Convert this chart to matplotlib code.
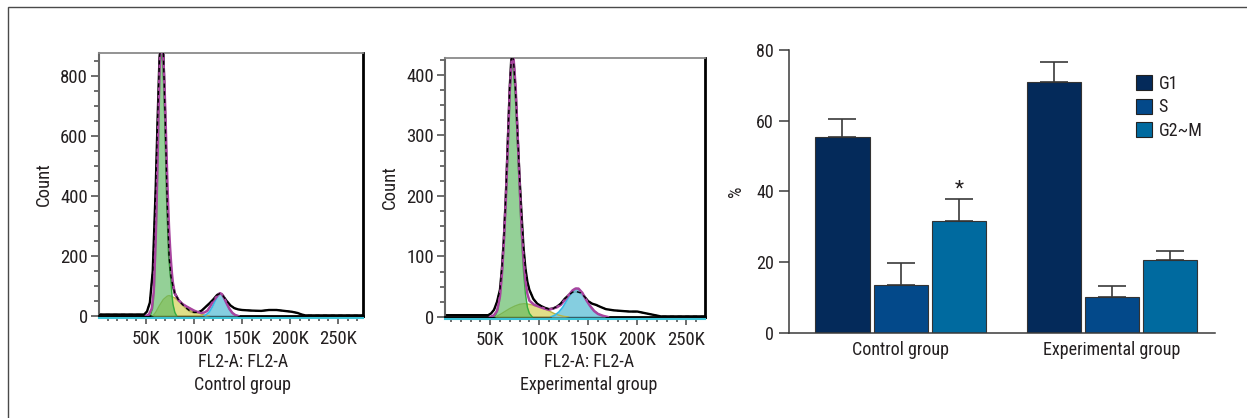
import matplotlib
matplotlib.use("Agg")
import matplotlib.pyplot as plt
import matplotlib.transforms as mtransforms
from matplotlib.patches import Patch, Rectangle
from matplotlib.ticker import FixedLocator, MultipleLocator

plt.rcParams['font.family'] = ['Liberation Sans Narrow', 'Roboto Condensed', 'Open Sans Condensed',
                               'DejaVu Sans']
plt.rcParams['font.stretch'] = 'condensed'
plt.rcParams['font.size'] = 12
plt.rcParams['text.color'] = '#231f20'
plt.rcParams['axes.labelcolor'] = '#231f20'
plt.rcParams['xtick.color'] = '#555555'
plt.rcParams['ytick.color'] = '#555555'
plt.rcParams['xtick.labelcolor'] = '#231f20'
plt.rcParams['ytick.labelcolor'] = '#231f20'

# ---- flow cytometry histograms (x in K) ----
ctrl_data_x = [0, 20, 40, 48, 51, 54, 57, 60, 62, 64, 66, 68, 70, 72, 74, 76, 78, 80, 84, 88,
               92, 96, 100, 104, 108, 112, 116, 120, 124, 127, 130, 134, 138, 142, 146, 150,
               160, 170, 178, 186, 194, 202, 208, 212, 216, 230, 250, 276]
ctrl_data_y = [5, 5, 5, 5, 15, 45, 150, 420, 650, 860, 920, 880, 650, 380, 200, 130, 100, 75, 52, 38,
               26, 16, 12, 12, 18, 30, 42, 55, 70, 75, 68, 50, 35, 26, 22, 20,
               18, 17, 20, 20, 17, 14, 10, 5, 2, 2, 2, 2]
ctrl_fit_x = [50, 53, 56, 58, 60, 61, 62, 63, 64, 65, 66, 67, 68, 69, 70, 71, 72, 73, 74, 75, 76,
              77, 78, 80, 84, 88, 92, 96, 100, 104, 108, 111, 114, 117, 120, 123, 125, 127, 129,
              131, 134, 137, 140, 143, 146]
ctrl_fit_y = [0, 5, 25, 80, 250, 370, 520, 670, 810, 900, 940, 920, 860, 790, 690, 580, 470, 370,
              290, 230, 180, 140, 110, 75, 52, 40, 32, 25, 18, 13, 10, 12, 18, 33, 50, 62, 70, 76,
              73, 62, 42, 23, 10, 3, 0]
ctrl_g1_x = [55, 57, 59, 61, 62, 63, 64, 65, 66, 67, 68, 69, 70, 71, 72, 73, 74, 75, 76, 77, 78, 80, 82]
ctrl_g1_y = [5, 25, 110, 330, 480, 620, 760, 840, 870, 860, 800, 720, 620, 510, 400, 300, 220, 160,
             110, 70, 40, 12, 0]
ctrl_s_x = [57, 60, 64, 68, 72, 74, 76, 80, 84, 88, 92, 96, 100, 104, 108, 112, 116]
ctrl_s_y = [0, 12, 35, 55, 66, 68, 66, 60, 50, 40, 32, 25, 18, 12, 6, 2, 0]
ctrl_g2_x = [110, 113, 116, 119, 122, 125, 127, 129, 131, 134, 137, 140, 143, 146]
ctrl_g2_y = [0, 5, 14, 30, 50, 68, 75, 72, 60, 40, 22, 10, 3, 0]

exp_data_x = [0, 30, 48, 51, 54, 57, 60, 62, 64, 66, 68, 70, 72, 74, 76, 78, 80, 82, 84, 86, 88,
              90, 94, 98, 102, 106, 110, 114, 118, 122, 126, 130, 134, 138, 142, 146, 150, 154,
              158, 162, 168, 176, 184, 192, 200, 206, 212, 218, 224, 230, 269]
exp_data_y = [3, 3, 3, 6, 12, 25, 45, 80, 130, 200, 290, 380, 440, 420, 370, 300, 230, 170, 115,
              80, 58, 45, 30, 22, 18, 15, 13, 14, 17, 22, 30, 36, 41, 42, 40, 34, 26, 22, 20, 17,
              13, 11, 10, 9, 9, 7, 5, 3, 1, 1, 1]
exp_fit_x = [50, 54, 57, 60, 62, 64, 66, 68, 70, 72, 73, 74, 76, 78, 80, 82, 84, 86, 88, 90, 95,
             100, 105, 110, 114, 118, 122, 126, 130, 134, 137, 140, 144, 148, 152, 156, 160, 165, 170]
exp_fit_y = [0, 3, 10, 34, 70, 124, 194, 282, 374, 426, 432, 425, 380, 302, 222, 152, 97, 60, 38,
             27, 20, 17, 14, 12, 14, 16, 20, 28, 36, 44, 47, 47, 40, 28, 18, 10, 5, 2, 0]
exp_g1_x = [54, 56, 58, 60, 62, 64, 66, 68, 70, 72, 73, 74, 76, 78, 80, 82, 84, 86, 88, 90, 93]
exp_g1_y = [0, 4, 12, 30, 65, 115, 185, 270, 360, 410, 415, 405, 360, 280, 200, 130, 75, 38, 16, 6, 0]
exp_s_x = [55, 60, 65, 70, 75, 80, 85, 90, 95, 100, 105, 110, 115, 120, 125, 130]
exp_s_y = [0, 4, 9, 14, 18, 21, 22, 21, 19, 17, 14, 10, 6, 3, 1, 0]
exp_g2_x = [112, 116, 120, 124, 128, 132, 135, 138, 141, 144, 148, 152, 156, 160, 164, 168]
exp_g2_y = [0, 3, 8, 16, 27, 38, 45, 47, 45, 39, 28, 18, 10, 5, 2, 0]

# ---- bar chart ----
groups = ['Control group', 'Experimental group']
phases = ['G1', 'S', 'G2~M']
phase_means = {'G1': [55.5, 70.9], 'S': [13.5, 10.0], 'G2~M': [31.6, 20.5]}
phase_errs = {'G1': [5.0, 5.6], 'S': [6.3, 3.1], 'G2~M': [6.1, 2.7]}
phase_colors = {'G1': '#042a5a', 'S': '#03498a', 'G2~M': '#006a9f'}

W, H = 1247, 418
fig = plt.figure(figsize=(W / 100, H / 100), dpi=100)

# outer frame
fig.patches.append(Rectangle((8 / W, -0.1), 1.2, 1 - 7 / H + 0.1, transform=fig.transFigure,
                             fill=False, edgecolor='#4a4a4a', linewidth=1))


def px_axes(left, top, right, bottom):
    return fig.add_axes([left / W, 1 - bottom / H, (right - left) / W, (bottom - top) / H])


def draw_hist(ax, data, fit, g1, s, g2, xlim, ylim, ymajor, yminor, title, cx):
    ax.plot(*data, color='black', lw=1.7, zorder=2)
    ax.fill_between(*s, color='#d9d86a', alpha=0.8, lw=0, zorder=3)
    ax.plot(*s, color='#b9b544', lw=1, zorder=3.5)
    ax.fill_between(*g2, color='#78c9dd', alpha=0.9, lw=0, zorder=3)
    ax.plot(*g2, color='#3ab8e6', lw=1.3, zorder=3.5)
    ax.fill_between(*g1, color='#5bb85f', alpha=0.65, lw=0, zorder=4)
    ax.plot(*g1, color='#35ad3e', lw=1, zorder=4.5)
    ax.plot(*fit, color='#a8449f', lw=1.8, zorder=5)
    ax.plot(*data, color='black', lw=1.0, dashes=(3, 2.5), zorder=6)

    ax.set_xlim(*xlim)
    ax.set_ylim(*ylim)
    ax.xaxis.set_major_locator(FixedLocator([50, 100, 150, 200, 250]))
    ax.set_xticklabels(['50K', '100K', '150K', '200K', '250K'])
    ax.xaxis.set_minor_locator(MultipleLocator(10))
    ax.yaxis.set_major_locator(MultipleLocator(ymajor))
    ax.yaxis.set_minor_locator(MultipleLocator(yminor))
    ax.tick_params(axis='both', which='major', length=6, width=1.2, labelsize=13.5, direction='out')
    ax.tick_params(axis='both', which='minor', length=3.5, width=1.2, direction='out')
    ax.tick_params(axis='y', pad=2)
    ax.tick_params(axis='x', pad=4)
    ax.spines['left'].set_color('#666666')
    ax.spines['left'].set_linewidth(1.5)
    ax.spines['top'].set_color('#8a8a8a')
    ax.spines['top'].set_linewidth(1.3)
    ax.spines['right'].set_color('black')
    ax.spines['right'].set_linewidth(2)
    ax.spines['bottom'].set_color('black')
    ax.spines['bottom'].set_linewidth(2)
    shift = mtransforms.offset_copy(ax.get_xaxis_transform(), fig=fig, y=-2.2, units='dots')
    ax.plot([0, 1], [0, 0], transform=mtransforms.blended_transform_factory(ax.transAxes, shift),
            color='#3cc3d6', lw=1.5, clip_on=False, zorder=7)
    ax.set_ylabel('Count', fontsize=13.5, labelpad=5)
    fig.text(cx / W, 1 - 362 / H, 'FL2-A: FL2-A', ha='center', va='center', fontsize=13)
    fig.text(cx / W, 1 - 385 / H, title, ha='center', va='center', fontsize=13)


ax1 = px_axes(99, 53, 363, 316)
draw_hist(ax1, (ctrl_data_x, ctrl_data_y), (ctrl_fit_x, ctrl_fit_y), (ctrl_g1_x, ctrl_g1_y),
          (ctrl_s_x, ctrl_s_y), (ctrl_g2_x, ctrl_g2_y), (1, 276), (0, 876), 200, 50,
          'Control group', 243)

ax2 = px_axes(445, 58, 705, 317)
draw_hist(ax2, (exp_data_x, exp_data_y), (exp_fit_x, exp_fit_y), (exp_g1_x, exp_g1_y),
          (exp_s_x, exp_s_y), (exp_g2_x, exp_g2_y), (4, 269), (0, 428), 100, 25,
          'Experimental group', 589)

# bar chart
ax3 = px_axes(789.3, 50, 1215, 332.7)
step, width = 0.277, 0.256
for i, ph in enumerate(phases):
    xs = [g + (i - 1) * step for g in range(len(groups))]
    ax3.bar(xs, phase_means[ph], width=width, color=phase_colors[ph], edgecolor='#333333',
            linewidth=0.8, label=ph, zorder=2)
    ax3.errorbar(xs, phase_means[ph], yerr=[[0] * len(xs), phase_errs[ph]], fmt='none',
                 ecolor='#3a3a3a', elinewidth=1.2, capsize=10, capthick=1.2, zorder=1)

star_x = 0 + step
ax3.text(star_x, phase_means['G2~M'][0] + phase_errs['G2~M'][0] + 0.2, '*', ha='center',
         va='bottom', fontsize=15)

ax3.set_xlim(-0.529, 1.488)
ax3.set_ylim(0, 80)
ax3.set_yticks([0, 20, 40, 60, 80])
ax3.set_xticks(range(len(groups)))
ax3.set_xticklabels(groups)
ax3.tick_params(axis='x', length=0, pad=6, labelsize=13)
ax3.tick_params(axis='y', length=7, width=1.1, pad=4, labelsize=13, color='#3a3a3a')
for side in ['top', 'right']:
    ax3.spines[side].set_visible(False)
for side in ['left', 'bottom']:
    ax3.spines[side].set_color('#3a3a3a')
    ax3.spines[side].set_linewidth(1.1)
ax3.set_ylabel('%', fontsize=13, labelpad=8)

handles = [Patch(facecolor=phase_colors[ph], edgecolor='#222222', linewidth=0.8) for ph in phases]
ax3.legend(handles, phases, loc='upper left', bbox_to_anchor=(1136 / W, 1 - 75 / H),
           bbox_transform=fig.transFigure, frameon=False, fontsize=13, handlelength=0.9,
           handleheight=0.9, labelspacing=0.3, handletextpad=0.35, borderpad=0,
           borderaxespad=0)

fig.savefig('out.png', dpi=100)
